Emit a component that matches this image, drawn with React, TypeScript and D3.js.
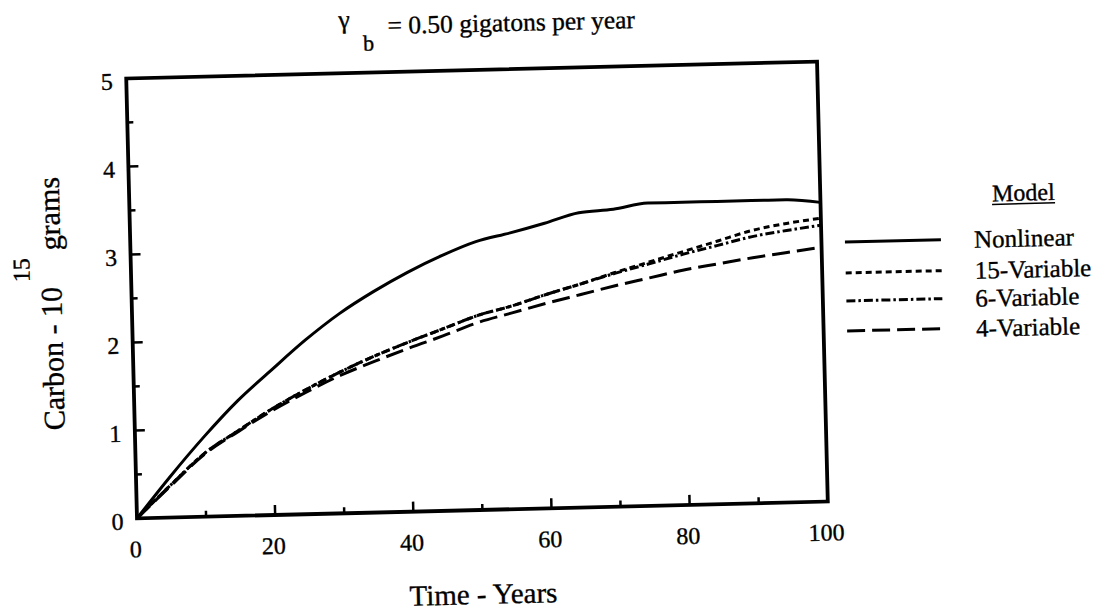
import React from 'react';
import * as d3 from 'd3';

// ---- data ----
const years = [0, 5, 10, 15, 20, 25, 30, 35, 40, 45, 50, 55, 60, 65, 70, 75, 80, 85, 90, 95, 100];
const nonlinear = [0, 0.47, 0.91, 1.31, 1.65, 1.98, 2.27, 2.51, 2.72, 2.9, 3.05, 3.14, 3.24, 3.35, 3.38, 3.44, 3.44, 3.44, 3.44, 3.44, 3.4];
const var15 = [0, 0.37, 0.72, 0.97, 1.21, 1.42, 1.61, 1.78, 1.93, 2.07, 2.21, 2.31, 2.43, 2.54, 2.66, 2.77, 2.88, 2.99, 3.1, 3.17, 3.22];
const var6 = [0, 0.37, 0.72, 0.97, 1.21, 1.42, 1.61, 1.78, 1.93, 2.07, 2.21, 2.31, 2.43, 2.54, 2.65, 2.75, 2.85, 2.94, 3.03, 3.09, 3.14];
const var4 = [0, 0.36, 0.71, 0.96, 1.19, 1.39, 1.57, 1.72, 1.86, 1.99, 2.13, 2.23, 2.33, 2.42, 2.51, 2.59, 2.67, 2.73, 2.79, 2.84, 2.89];
const seriesNames = ['Nonlinear', '15-Variable', '6-Variable', '4-Variable'];
const seriesValues = [nonlinear, var15, var6, var4];
const xTickValues = [0, 20, 40, 60, 80, 100];
const yTickValues = [0, 1, 2, 3, 4, 5];
const titleSymbol = 'γ';
const titleSub = 'b';
const titleText = '= 0.50 gigatons per year';
const xTitle = 'Time - Years';
const yTitleMain = 'Carbon - 10';
const yTitleExp = '15';
const yTitleUnit = 'grams';
const legendTitle = 'Model';

const dashes = ['none', '6 4', '9 3 2.5 3', '18 7'];
const FONT = '"Liberation Serif", "Times New Roman", Times, serif';
const ts = { fontFamily: FONT, stroke: '#000', strokeWidth: 0.35 };

export default function App() {
  const W = 1106, H = 611;
  const left = 131.5, right = 822.5, top = 70, bottom = 510;
  const x = d3.scaleLinear().domain([0, 100]).range([left, right]);
  const y = d3.scaleLinear().domain([0, 5]).range([bottom, top]);
  const line = d3.line<number>()
    .x((_, i) => x(years[i]))
    .y((d) => y(d))
    .curve(d3.curveMonotoneX);

  const xTicks = d3.range(10, 100, 10);
  const yTicks = d3.range(0.5, 5, 0.5);
  const legendLineY = [251, 282, 310, 340];

  return (
    <svg width={W} height={H} style={{ position: 'absolute', left: 0, top: 0, background: '#fff' }} fill="#000">
      <rect x={0} y={0} width={W} height={H} fill="#fff" />
      <g transform="rotate(-1.4, 476.75, 289.5)">
        {/* title */}
        <text x={345} y={25} fontSize={26} style={ts}>{titleSymbol}</text>
        <text x={369} y={48} fontSize={22} style={ts}>{titleSub}</text>
        <text x={394} y={32} fontSize={25.5} style={ts}>{titleText}</text>

        {/* curves */}
        {seriesValues.map((vals, i) => (
          <path key={seriesNames[i]} d={line(vals) || ''} fill="none" stroke="#000"
            strokeWidth={3} strokeDasharray={dashes[i]} strokeLinejoin="round" />
        ))}

        {/* ticks */}
        {xTicks.map((t) => (
          <line key={'xt' + t} x1={x(t)} x2={x(t)} y1={bottom} y2={bottom - (t % 20 === 0 ? 10 : 6)}
            stroke="#000" strokeWidth={2.5} />
        ))}
        {yTicks.map((t) => (
          <line key={'yt' + t} x1={left} x2={left + (t % 1 === 0 ? 10 : 6)} y1={y(t)} y2={y(t)}
            stroke="#000" strokeWidth={2.5} />
        ))}

        {/* frame */}
        <rect x={left} y={top} width={right - left} height={bottom - top} fill="none" stroke="#000" strokeWidth={3.8} />

        {/* tick labels */}
        {xTickValues.map((t) => (
          <text key={'xl' + t} x={x(t) - 2} y={549} fontSize={24} style={ts} textAnchor="middle">{t}</text>
        ))}
        {yTickValues.map((t) => (
          <text key={'yl' + t} x={118} y={y(t) + 11} fontSize={24} style={ts} textAnchor="end">{t}</text>
        ))}

        {/* axis titles */}
        <text x={476} y={604} fontSize={29} style={ts} textAnchor="middle">{xTitle}</text>
        <text transform="translate(61.5,420) rotate(-90)" fontSize={30} style={ts}>{yTitleMain}</text>
        <text transform="translate(30,271) rotate(-90)" fontSize={24} style={ts}>{yTitleExp}</text>
        <text transform="translate(61.5,240) rotate(-90)" fontSize={30} style={ts}>{yTitleUnit}</text>

        {/* legend */}
        <text x={1025.5} y={214} fontSize={24} style={ts} textAnchor="middle">{legendTitle}</text>
        <line x1={994} x2={1057} y1={217} y2={217} stroke="#000" strokeWidth={1.5} />
        {seriesNames.map((name, i) => (
          <g key={'lg' + name}>
            <line x1={846} x2={942} y1={legendLineY[i]} y2={legendLineY[i]} stroke="#000" strokeWidth={3}
              strokeDasharray={dashes[i]} />
            <text x={975} y={legendLineY[i] + 9} fontSize={25} style={ts}>{name}</text>
          </g>
        ))}
      </g>
    </svg>
  );
}
